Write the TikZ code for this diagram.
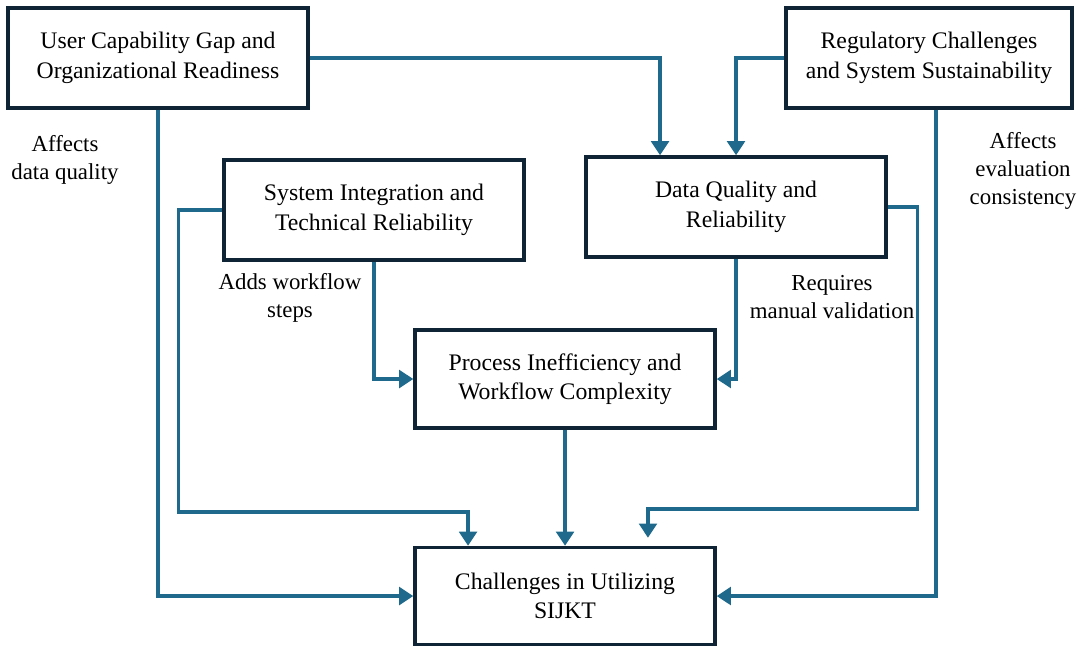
\documentclass[tikz,border=0pt]{standalone}
\usepackage{fontspec}
\setmainfont{Liberation Serif}
\usetikzlibrary{arrows.meta}
\definecolor{flowblue}{HTML}{1F6A8C}
\definecolor{boxnavy}{HTML}{0F2535}
\begin{document}
\begin{tikzpicture}[x=0.02cm, y=-0.02cm, font=\fontsize{13.5}{16.8}\selectfont, line join=miter,
	box/.style={draw=boxnavy, line width=2pt, fill=white, minimum width=6cm, minimum height=2cm, align=center, inner sep=0pt},
	flow/.style={draw=flowblue, line width=1.9pt, -{Triangle[length=8pt,width=10pt]}},
	note/.style={align=center, font=\fontsize{13}{16}\selectfont}]
		\useasboundingbox (0,0) rectangle (1077,649);
		% boxes
		\node[box] (user) at (158,58) {User Capability Gap and\\Organizational Readiness};
		\node[box, minimum width=5.72cm] (reg) at (929,58) {Regulatory Challenges\\and System Sustainability};
		\node[box] (sys) at (374,210) {System Integration and\\Technical Reliability};
		\node[box] (dq) at (736,207) {Data Quality and\\Reliability};
		\node[box, minimum height=1.96cm] (proc) at (565,379) {Process Inefficiency and\\Workflow Complexity};
		\node[box, minimum height=1.94cm] (sijkt) at (565,596) {Challenges in Utilizing\\SIJKT};
		% labels
		\node[note] (affdq) at (65,160) {Affects\\data quality};
		\node[note] (addwf) at (290,298) {Adds workflow\\steps};
		\node[note] (reqmv) at (832,297) {Requires\\manual validation};
		\node[note] (affev) at (1023,171) {Affects\\evaluation\\consistency};
		% connectors
		\draw[flow] (user.east) -| ([xshift=-1.52cm]dq.north);
		\draw[flow] (reg.west) -| (dq.north);
		\draw[flow] (user.south) |- (sijkt.west);
		\draw[flow] ([xshift=0.14cm]reg.south) |- (sijkt.east);
		\draw[flow] (sys.west) -| ++(-44,302) -| ([xshift=-1.94cm]sijkt.north);
		\draw[flow] (sys.south) |- (proc.west);
		\draw[flow] (dq.south) |- (proc.east);
		\draw[flow] (dq.east) -| ++(30,302) -| ([xshift=1.66cm,yshift=0.16cm]sijkt.north);
		\draw[flow] (proc.south) -- (sijkt.north);
	\end{tikzpicture}
\end{document}
